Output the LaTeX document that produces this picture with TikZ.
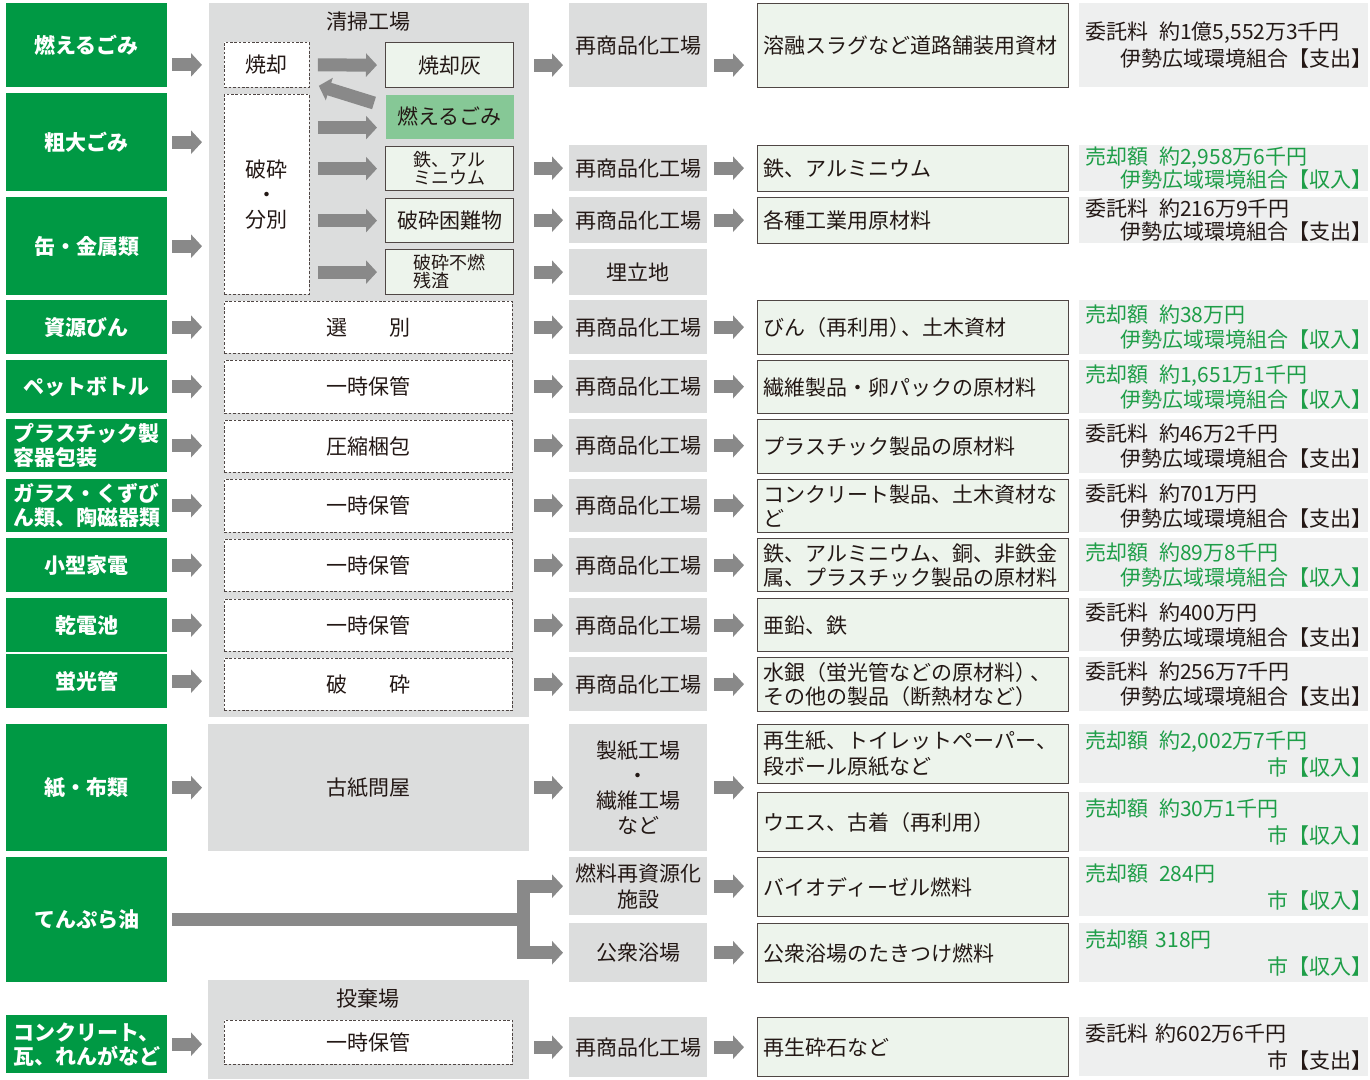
\documentclass[tikz,border=0pt]{standalone}
\usepackage{fontspec}
\setmainfont{Noto Sans CJK JP}
\usetikzlibrary{arrows.meta}

\definecolor{srcgreen}{HTML}{009944}
\definecolor{plantgrey}{HTML}{DCDDDD}
\definecolor{arrowgrey}{HTML}{898989}
\definecolor{wareFill}{HTML}{EDF4EC}
\definecolor{burnGreen}{HTML}{86C896}
\definecolor{costgrey}{HTML}{EEEFEF}
\definecolor{saleGreen}{HTML}{1E9E48}
\definecolor{ink}{HTML}{231815}

\newcommand\cashline[2]{#1\\\mbox{}\hfill #2\kern-.5em}

\begin{document}
\begin{tikzpicture}[x=1pt, y=-1pt,
      font=\fontsize{21}{24}\selectfont, text=ink,
      every node/.style={inner sep=0pt, anchor=north west},
      sz/.style 2 args={minimum width=#1pt, minimum height=#2pt},
      srcbox/.style={fill=srcgreen, text=white, align=left,
          font=\fontsize{21}{24}\selectfont\bfseries},
      plant/.style={fill=plantgrey, align=center},
      hold/.style={draw=ink!80, fill=white, line width=0.8pt,
          dash pattern=on 2.6pt off 1.8pt, align=center},
      ware/.style={draw=ink!80, fill=wareFill, line width=1.2pt, align=center},
      goal/.style={ware, text width=299pt, inner xsep=6pt, align=left},
      cost/.style={fill=costgrey, text width=276pt, inner xsep=6.5pt, align=left,
          font=\fontsize{21}{25}\selectfont},
      sale/.style={cost, text=saleGreen},
      flow/.style={draw=arrowgrey, line width=13pt,
          -{Triangle[length=11pt,width=23pt]}},
      pipe/.style={draw=arrowgrey, line width=13pt}]
  \useasboundingbox (0,0) rectangle (1370,1079);

  % sources
  \node[srcbox, sz={161}{84}] (sBurn) at (6,3) {燃えるごみ};
  \node[srcbox, sz={161}{98}] (sBulk) at (6,93) {粗大ごみ};
  \node[srcbox, sz={161}{98}] (sCan) at (6,197) {缶・金属類};
  \node[srcbox, sz={161}{54}] (sBin) at (6,300) {資源びん};
  \node[srcbox, sz={161}{53}] (sPet) at (6,360) {ペットボトル};
  \node[srcbox, sz={161}{53}] (sPla) at (6,419) {プラスチック製\\容器包装};
  \node[srcbox, sz={161}{53}] (sGla) at (6,479) {ガラス・くずび\\ん類、陶磁器類};
  \node[srcbox, sz={161}{54}] (sEle) at (6,538) {小型家電};
  \node[srcbox, sz={161}{54}] (sBat) at (6,598) {乾電池};
  \node[srcbox, sz={161}{54}] (sFlu) at (6,654) {蛍光管};
  \node[srcbox, sz={161}{127}] (sPap) at (6,724) {紙・布類};
  \node[srcbox, sz={161}{125}] (sOil) at (6,857) {てんぷら油};
  \node[srcbox, sz={161}{58}] (sCon) at (6,1015) {コンクリート、\\瓦、れんがなど};

  % 清掃工場
  \node[plant, sz={320}{714}] (plantA) at (209,3) {};
  \node[anchor=center] (plantAT) at (368,22) {清掃工場};
  \node[hold, sz={85}{45}] (burn) at (224,42) {焼却};
  \node[hold, sz={85}{200}, font=\fontsize{21}{25}\selectfont] (crush) at (224,94) {破砕\\・\\分別};
  \node[ware, sz={128}{45}] (ash) at (385,42) {焼却灰};
  \node[ware, draw=none, fill=burnGreen, sz={128}{44}] (rcomb) at (385,94) {燃えるごみ};
  \node[ware, sz={128}{44}, font=\fontsize{18}{18}\selectfont] (metal) at (385,146) {鉄、アル\\ミニウム};
  \node[ware, sz={128}{44}] (hard) at (385,198) {破砕困難物};
  \node[ware, sz={128}{45}, align=left, font=\fontsize{18}{18}\selectfont] (resid) at (385,249) {破砕不燃\\残渣};
  \node[hold, sz={288}{52}] (sortB) at (224,301) {選　　別};
  \node[hold, sz={288}{53}] (keepP) at (224,360) {一時保管};
  \node[hold, sz={288}{52}] (pressC) at (224,420) {圧縮梱包};
  \node[hold, sz={288}{53}] (keepG) at (224,479) {一時保管};
  \node[hold, sz={288}{52}] (keepE) at (224,539) {一時保管};
  \node[hold, sz={288}{52}] (keepD) at (224,599) {一時保管};
  \node[hold, sz={288}{52}] (crushL) at (224,658) {破　　砕};

  % 古紙問屋, 投棄場
  \node[plant, sz={321}{127}] (oldP) at (208,724) {古紙問屋};
  \node[plant, sz={321}{99}] (plantB) at (208,980) {};
  \node[anchor=center] (plantBT) at (368,999) {投棄場};
  \node[hold, sz={288}{44}] (keepC) at (224,1020) {一時保管};

  % factories
  \node[plant, sz={138}{84}] (fac1) at (569,3) {再商品化工場};
  \node[plant, sz={138}{46}] (fac2) at (569,145) {再商品化工場};
  \node[plant, sz={138}{46}] (fac3) at (569,197) {再商品化工場};
  \node[plant, sz={138}{46}] (land) at (569,249) {埋立地};
  \node[plant, sz={138}{54}] (fac4) at (569,300) {再商品化工場};
  \node[plant, sz={138}{53}] (fac5) at (569,360) {再商品化工場};
  \node[plant, sz={138}{53}] (fac6) at (569,419) {再商品化工場};
  \node[plant, sz={138}{53}] (fac7) at (569,479) {再商品化工場};
  \node[plant, sz={138}{54}] (fac8) at (569,538) {再商品化工場};
  \node[plant, sz={138}{54}] (fac9) at (569,598) {再商品化工場};
  \node[plant, sz={138}{54}] (fac10) at (569,657) {再商品化工場};
  \node[plant, sz={138}{127}, font=\fontsize{21}{25}\selectfont] (mill) at (569,724) {製紙工場\\・\\繊維工場\\など};
  \node[plant, sz={138}{58}, font=\fontsize{21}{26}\selectfont] (fuel) at (569,857) {燃料再資源化\\施設};
  \node[plant, sz={138}{59}] (bath) at (569,923) {公衆浴場};
  \node[plant, sz={138}{60}] (fac13) at (569,1017) {再商品化工場};

  % products
  \node[goal, sz={311}{84}] (goal1) at (757,3) {溶融スラグなど道路舗装用資材};
  \node[goal, sz={311}{46}] (goal2) at (757,145) {鉄、アルミニウム};
  \node[goal, sz={311}{46}] (goal3) at (757,197) {各種工業用原材料};
  \node[goal, sz={311}{54}] (goal4) at (757,300) {びん（再利用）\kern-.45em、土木資材};
  \node[goal, sz={311}{53}] (goal5) at (757,360) {繊維製品・卵パックの原材料};
  \node[goal, sz={311}{54}] (goal6) at (757,419) {プラスチック製品の原材料};
  \node[goal, sz={311}{53}] (goal7) at (757,479) {コンクリート製品、土木資材な\\ど};
  \node[goal, sz={311}{53}] (goal8) at (757,538) {鉄、アルミニウム、銅、非鉄金\\属、プラスチック製品の原材料};
  \node[goal, sz={311}{53}] (goal9) at (757,598) {亜鉛、鉄};
  \node[goal, sz={311}{54}] (goal10) at (757,657) {水銀（蛍光管などの原材料）\kern-.3em、\\その他の製品（断熱材など）};
  \node[goal, sz={311}{59}, font=\fontsize{21}{26}\selectfont] (goal11) at (757,724) {再生紙、トイレットペーパー、\\段ボール原紙など};
  \node[goal, sz={311}{59}] (goal12) at (757,792) {ウエス、古着（再利用）};
  \node[goal, sz={311}{59}] (goal13) at (757,857) {バイオディーゼル燃料};
  \node[goal, sz={311}{59}] (goal14) at (757,923) {公衆浴場のたきつけ燃料};
  \node[goal, sz={311}{59}] (goal15) at (757,1017) {再生砕石など};

  % money
  \node[cost, sz={289}{84}, font=\fontsize{21}{27}\selectfont] (pay1) at (1079,3) {\cashline{委託料\hspace{.5em}約1億5,552万3千円}{伊勢広域環境組合【支出】}};
  \node[sale, sz={289}{46}, font=\fontsize{21}{23}\selectfont] (pay2) at (1079,145) {\cashline{売却額\hspace{.5em}約2,958万6千円}{伊勢広域環境組合【収入】}};
  \node[cost, sz={289}{46}, font=\fontsize{21}{23}\selectfont] (pay3) at (1079,197) {\cashline{委託料\hspace{.5em}約216万9千円}{伊勢広域環境組合【支出】}};
  \node[sale, sz={289}{54}] (pay4) at (1079,300) {\cashline{売却額\hspace{.5em}約38万円}{伊勢広域環境組合【収入】}};
  \node[sale, sz={289}{53}] (pay5) at (1079,360) {\cashline{売却額\hspace{.5em}約1,651万1千円}{伊勢広域環境組合【収入】}};
  \node[cost, sz={289}{54}] (pay6) at (1079,419) {\cashline{委託料\hspace{.5em}約46万2千円}{伊勢広域環境組合【支出】}};
  \node[cost, sz={289}{53}] (pay7) at (1079,479) {\cashline{委託料\hspace{.5em}約701万円}{伊勢広域環境組合【支出】}};
  \node[sale, sz={289}{53}] (pay8) at (1079,538) {\cashline{売却額\hspace{.5em}約89万8千円}{伊勢広域環境組合【収入】}};
  \node[cost, sz={289}{53}] (pay9) at (1079,598) {\cashline{委託料\hspace{.5em}約400万円}{伊勢広域環境組合【支出】}};
  \node[cost, sz={289}{54}] (pay10) at (1079,657) {\cashline{委託料\hspace{.5em}約256万7千円}{伊勢広域環境組合【支出】}};
  \node[sale, sz={289}{59}, font=\fontsize{21}{27}\selectfont] (pay11) at (1079,724) {\cashline{売却額\hspace{.5em}約2,002万7千円}{市【収入】}};
  \node[sale, sz={289}{59}, font=\fontsize{21}{27}\selectfont] (pay12) at (1079,792) {\cashline{売却額\hspace{.5em}約30万1千円}{市【収入】}};
  \node[sale, sz={289}{59}, font=\fontsize{21}{27}\selectfont] (pay13) at (1079,857) {\cashline{売却額\hspace{.5em}284円}{市【収入】}};
  \node[sale, sz={289}{59}, font=\fontsize{21}{27}\selectfont] (pay14) at (1079,923) {\cashline{売却額 318円}{市【収入】}};
  \node[cost, sz={289}{59}, font=\fontsize{21}{27}\selectfont] (pay15) at (1079,1017) {\cashline{委託料 約602万6千円}{市【支出】}};

  % arrows into the plants
  \draw[flow, shorten <=5pt, shorten >=7pt] (sBurn.east |- burn.west) -- (burn.west -| plantA.west);
  \foreach \s in {sBulk,sCan,sBin,sPet,sPla,sGla,sEle,sBat,sFlu}
    \draw[flow, shorten <=5pt, shorten >=7pt] (\s.east) -- (\s.east -| plantA.west);
  \draw[flow, shorten <=5pt, shorten >=6pt] (sPap.east) -- (oldP.west);
  \draw[flow, shorten <=5pt, shorten >=6pt] (sCon.east) -- (sCon.east -| plantB.west);

  % inside 清掃工場
  \coordinate (toRcomb) at ([yshift=-11pt]rcomb.west);
  \draw[flow, shorten <=8pt, shorten >=8pt] (burn.east) -- (ash.west);
  \draw[flow, shorten <=8pt, shorten >=8pt] (crush.east |- toRcomb) -- (toRcomb);
  \foreach \t in {metal,hard,resid}
    \draw[flow, shorten <=8pt, shorten >=8pt] (crush.east |- \t.west) -- (\t.west);
  \draw[flow] ([shift={(-11pt,-9pt)}]rcomb.north west) -- ([shift={(9pt,2pt)}]burn.south east);

  % out to the factories
  \draw[flow, shorten <=5pt, shorten >=6pt] (ash.east -| plantA.east) -- (ash.east -| fac1.west);
  \foreach \f in {fac2,fac3,land,fac4,fac5,fac6,fac7,fac8,fac9,fac10}
    \draw[flow, shorten <=5pt, shorten >=6pt] (\f.west -| plantA.east) -- (\f.west);
  \draw[flow, shorten <=5pt, shorten >=6pt] (oldP.east) -- (mill.west);
  \draw[flow, shorten <=5pt, shorten >=6pt] (fac13.west -| plantB.east) -- (fac13.west);

  % てんぷら油
  \coordinate (split) at (523.5,919.5);
  \draw[pipe, shorten <=5pt] (sOil.east) -- (sOil.east -| split);
  \draw[flow, shorten >=6pt, line join=miter] (split) |- (fuel.west);
  \draw[flow, shorten >=6pt, line join=miter] (split) |- (bath.west);

  % to the products
  \draw[flow, shorten <=7pt, shorten >=13pt] (ash.east -| fac1.east) -- (ash.east -| goal1.west);
  \foreach \f/\g in {fac2/goal2,fac3/goal3,fac4/goal4,fac5/goal5,fac6/goal6,fac7/goal7,
      fac8/goal8,fac9/goal9,fac10/goal10,fuel/goal13,bath/goal14,fac13/goal15}
    \draw[flow, shorten <=7pt, shorten >=13pt] (\f.east) -- (\f.east -| \g.west);
  \draw[flow, shorten <=7pt, shorten >=13pt] (mill.east) -- (mill.east -| goal11.west);
\end{tikzpicture}
\end{document}
